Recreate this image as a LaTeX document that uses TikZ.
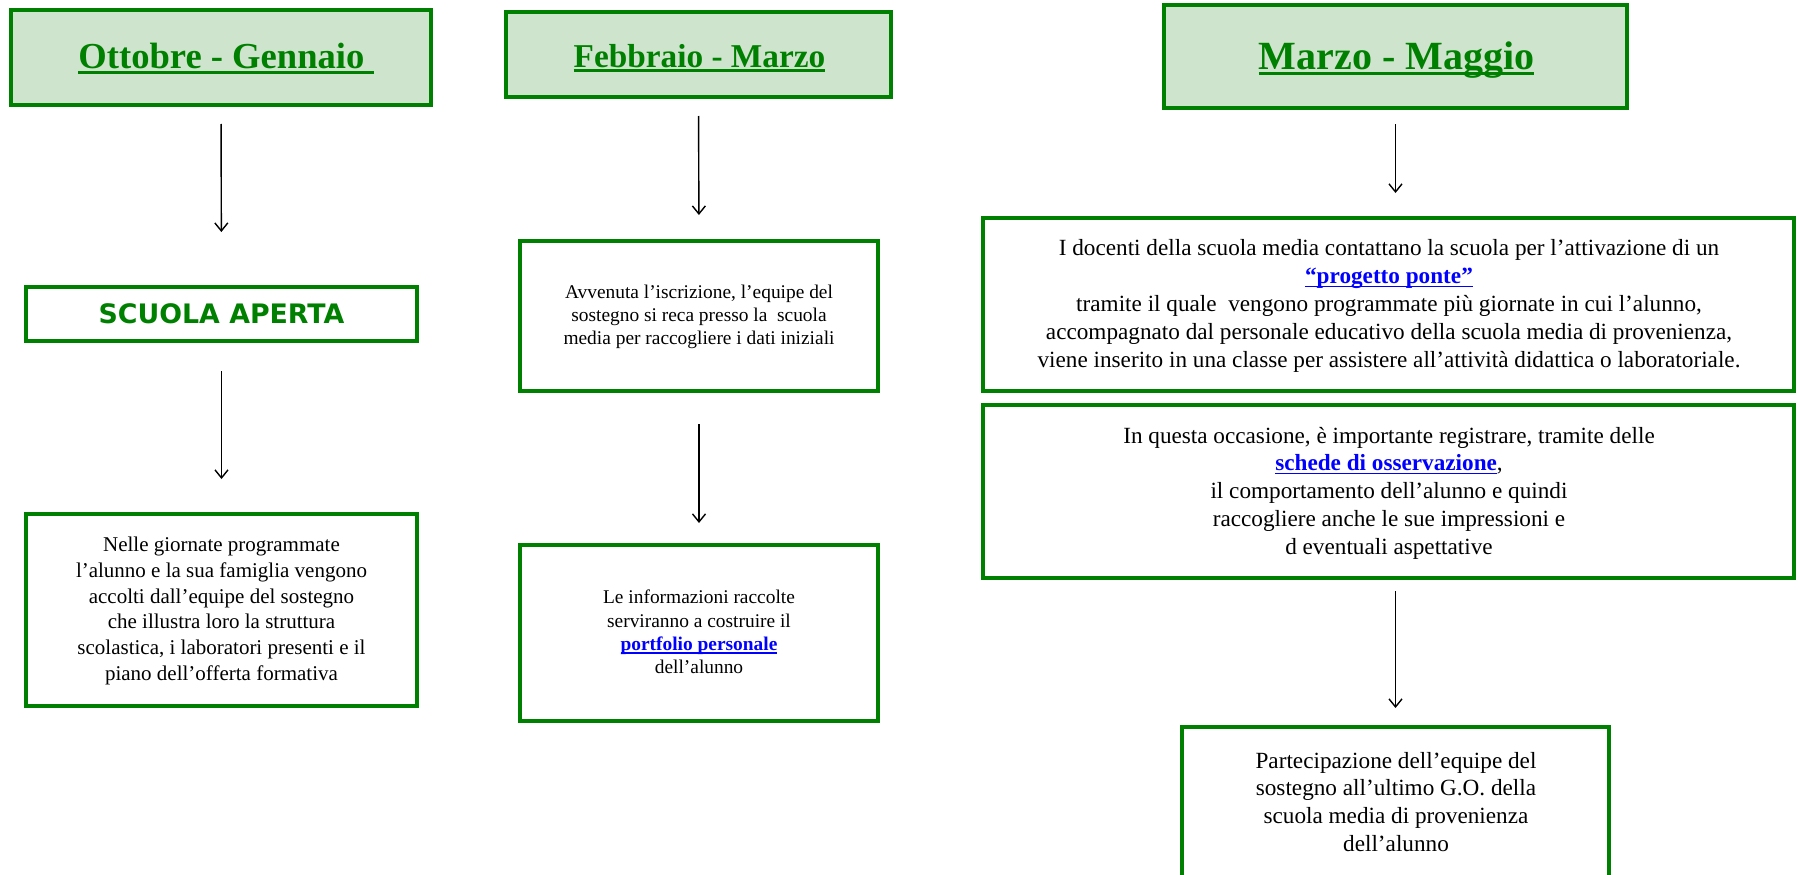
\documentclass[tikz,border=0pt]{standalone}
\usepackage{fontspec}
\setmainfont{Liberation Serif}
\newfontfamily\heavyfont{DejaVu Sans}
\usetikzlibrary{arrows.meta}
\definecolor{bordergreen}{RGB}{0,128,0}
\definecolor{titlefill}{RGB}{206,228,204}
\definecolor{linkblue}{RGB}{0,0,255}
% underline: #1 thickness, #2 bottom of rule below baseline, #3 text
\newcommand{\ulbox}[3]{\leavevmode\setbox0\hbox{#3}\rlap{\rule[-#2]{\wd0}{#1}}\box0}
\newcommand{\ph}{\vphantom{lp}}
\newcommand{\lnk}[1]{\textcolor{linkblue}{\bfseries\ulbox{1.6pt}{3.6pt}{#1}}}
\tikzset{
  box/.style={draw=bordergreen, line width=4pt, inner sep=0pt, outer sep=0pt, fill=white},
  titlebox/.style={box, fill=titlefill},
  titletext/.style={anchor=base, inner sep=0pt, text=bordergreen},
  bodytext/.style={align=center, inner sep=0pt, text=black},
  conn/.style={-{Straight Barb[length=8pt,width=13pt]}, line width=1.4pt, black},
}
\begin{document}
\begin{tikzpicture}[x=1pt,y=-1pt]
\path[use as bounding box] (0,0) rectangle (1799,875);
\clip (0,0) rectangle (1799,875);
\fill[white] (0,0) rectangle (1799,875);

% ---------- column A ----------
\node[titlebox, minimum width=420pt, minimum height=95pt] (A1) at (221,57.5) {};
\node[titletext, font=\fontsize{36.6}{44}\selectfont\bfseries] (A1t) at (226,69)
  {\ulbox{3.3pt}{5.3pt}{Ottobre - Gennaio\ }};
\node[box, minimum width=391pt, minimum height=54pt] (A2) at (221.5,314) {};
\node[titletext, font=\fontsize{26.8}{30}\selectfont\heavyfont\bfseries] (A2t) at (221.5,323)
  {SCUOLA APERTA};
\node[box, minimum width=391pt, minimum height=192pt] (A3) at (221.5,610) {};
\node[bodytext, font=\fontsize{21}{25.7}\selectfont] (A3t) at (221.5,611)
  {\ph Nelle giornate programmate\\
   l’alunno e la sua famiglia vengono\\
   accolti dall’equipe del sostegno\\
   che illustra loro la struttura\\
   scolastica, i laboratori presenti e il\\
   piano dell’offerta formativa\ph};

% ---------- column B ----------
\node[titlebox, minimum width=385pt, minimum height=85pt] (B1) at (698.5,54.5) {};
\node[titletext, font=\fontsize{33.3}{40}\selectfont\bfseries] (B1t) at (699.5,67)
  {\ulbox{3pt}{4.5pt}{Febbraio - Marzo}};
\node[box, minimum width=358pt, minimum height=150pt] (B2) at (699,316) {};
\node[bodytext, font=\fontsize{19.4}{23.3}\selectfont] (B2t) at (699,317)
  {\ph Avvenuta l’iscrizione, l’equipe del\\
   sostegno si reca presso la\ \ scuola\\
   media per raccogliere i dati iniziali\ph};
\node[box, minimum width=358pt, minimum height=176pt] (B3) at (699,633) {};
\node[bodytext, font=\fontsize{19.4}{23.4}\selectfont] (B3t) at (699,634)
  {\ph Le informazioni raccolte\\
   serviranno a costruire il\\
   \textcolor{linkblue}{\bfseries\ulbox{1.4pt}{3.2pt}{portfolio personale}}\\
   dell’alunno\ph};

% ---------- column C ----------
\node[titlebox, minimum width=463pt, minimum height=103pt] (C1) at (1395.5,56.5) {};
\node[titletext, font=\fontsize{40}{48}\selectfont\bfseries] (C1t) at (1396.5,70)
  {\ulbox{3.5pt}{5.5pt}{Marzo - Maggio}};
\node[box, minimum width=811pt, minimum height=173pt] (C2) at (1388.5,304.5) {};
\node[bodytext, font=\fontsize{23.2}{27.9}\selectfont] (C2t) at (1389,306)
  {\ph I docenti della scuola media contattano la scuola per l’attivazione di un\\
   \lnk{“progetto ponte”}\\
   tramite il quale\ \ vengono programmate più giornate in cui l’alunno,\\
   accompagnato dal personale educativo della scuola media di provenienza,\\
   viene inserito in una classe per assistere all’attività didattica o laboratoriale.\ph};
\node[box, minimum width=811pt, minimum height=173pt] (C3) at (1388.5,491.5) {};
\node[bodytext, font=\fontsize{23.2}{27.8}\selectfont] (C3t) at (1389,493)
  {\ph In questa occasione, è importante registrare, tramite delle\\
   \lnk{schede di osservazione},\\
   il comportamento dell’alunno e quindi\\
   raccogliere anche le sue impressioni e\\
   d eventuali aspettative\ph};
\node[box, minimum width=427pt, minimum height=200pt] (C4) at (1395.5,827) {};
\node[bodytext, font=\fontsize{23.2}{27.7}\selectfont] (C4t) at (1396,804)
  {\ph Partecipazione dell’equipe del\\
   sostegno all’ultimo G.O. della\\
   scuola media di provenienza\\
   dell’alunno\ph};

% ---------- connectors ----------
\draw[conn, shorten <=19pt, shorten >=55pt] (A1.south) -- (A2.north);
\draw[conn, shorten <=30pt, shorten >=35pt] (A2.south) -- (A3.north);
\draw[conn, shorten <=19pt, shorten >=26pt] (B1.south) -- (B2.north);
\draw[conn, shorten <=33pt, shorten >=22pt] (B2.south) -- (B3.north);
\draw[conn, shorten <=16pt, shorten >=25pt] (C1.south) -- (C1.south |- C2.north);
\draw[conn, shorten <=13pt, shorten >=19pt] (C3.south -| C4.north) -- (C4.north);
\end{tikzpicture}
\end{document}
